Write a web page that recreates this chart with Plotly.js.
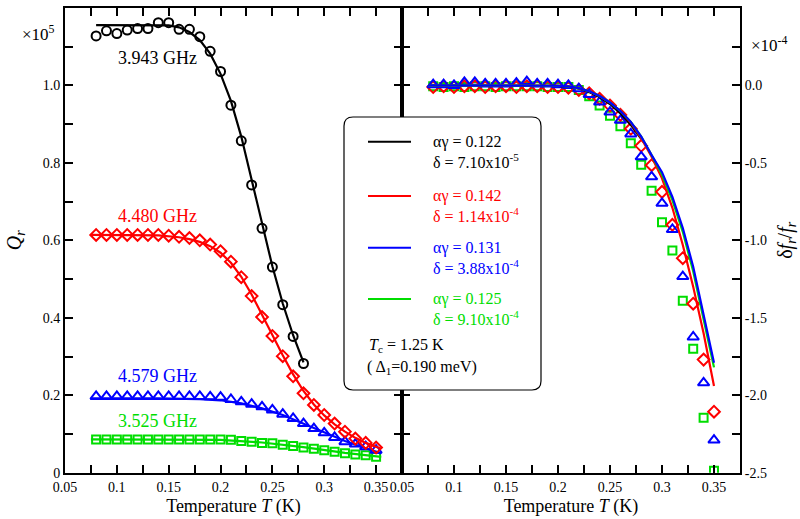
<!DOCTYPE html>
<html>
<head>
<meta charset="utf-8">
<script src="https://cdn.plot.ly/plotly-3.0.1.min.js"></script>
<style>html,body{margin:0;padding:0;background:#fff;}#chart{width:800px;height:519px;}</style>
</head>
<body>
<div id="chart"></div>
<script>
// ---------- data ----------
const T_pts = [0.08,0.09,0.10,0.11,0.12,0.13,0.14,0.15,0.16,0.17,0.18,0.19,0.20,0.21,0.22,0.23,0.24,0.25,0.26,0.27,0.28,0.29,0.30,0.31,0.32,0.33,0.34,0.35];
const T_black = [0.08,0.09,0.10,0.11,0.12,0.13,0.14,0.15,0.16,0.17,0.18,0.19,0.20,0.21,0.22,0.23,0.24,0.25,0.26,0.27,0.28];

// Left panel: Q_r (x1e5)
const Q_black = [1.128,1.141,1.134,1.143,1.147,1.147,1.162,1.162,1.145,1.145,1.126,1.088,1.036,0.949,0.857,0.743,0.631,0.531,0.434,0.352,0.282];
const Q_red = [0.614,0.614,0.614,0.614,0.614,0.614,0.614,0.612,0.609,0.606,0.600,0.589,0.572,0.545,0.505,0.456,0.402,0.353,0.301,0.249,0.205,0.175,0.149,0.127,0.106,0.088,0.077,0.065];
const Q_blue = [0.197,0.197,0.197,0.197,0.197,0.197,0.197,0.197,0.197,0.197,0.197,0.196,0.195,0.189,0.183,0.177,0.170,0.162,0.151,0.140,0.127,0.114,0.103,0.091,0.080,0.074,0.067,0.058];
const Q_green = [0.086,0.086,0.086,0.086,0.086,0.086,0.086,0.086,0.086,0.086,0.086,0.086,0.086,0.085,0.082,0.080,0.077,0.076,0.072,0.069,0.065,0.062,0.058,0.054,0.050,0.047,0.045,0.041];

// Left panel fits
const Tfit_black = [0.08,0.10,0.12,0.14,0.15,0.16,0.17,0.18,0.19,0.20,0.21,0.22,0.23,0.24,0.25,0.26,0.27,0.28];
const Qfit_black = [1.156,1.156,1.156,1.156,1.155,1.150,1.138,1.117,1.082,1.030,0.960,0.868,0.758,0.642,0.533,0.437,0.355,0.285];
const Tfit_red = [0.075,0.10,0.12,0.14,0.16,0.17,0.18,0.19,0.20,0.21,0.22,0.23,0.24,0.25,0.26,0.27,0.28,0.29,0.30,0.31,0.32,0.33,0.34,0.355];
const Qfit_red = [0.614,0.614,0.614,0.613,0.608,0.603,0.596,0.585,0.568,0.542,0.506,0.460,0.408,0.355,0.303,0.254,0.211,0.176,0.148,0.125,0.106,0.090,0.077,0.062];
const Tfit_blue = [0.075,0.10,0.14,0.18,0.20,0.22,0.24,0.26,0.28,0.30,0.32,0.34,0.355];
const Qfit_blue = [0.192,0.192,0.192,0.190,0.187,0.179,0.166,0.149,0.127,0.104,0.082,0.063,0.050];
const Tfit_green = [0.075,0.14,0.20,0.24,0.28,0.32,0.355];
const Qfit_green = [0.086,0.086,0.085,0.078,0.066,0.051,0.041];

// Right panel: delta f_r / f_r (x1e-4)
const F_blue = [0.005,0.005,0,0.02,0.02,0.01,0.01,0.01,0.015,0.025,0.01,0.01,0.005,0,-0.021,-0.058,-0.107,-0.172,-0.225,-0.313,-0.461,-0.59,-0.761,-0.93,-1.234,-1.624,-1.92,-2.289];
const F_red = [-0.01,-0.005,-0.01,-0.005,-0.005,-0.01,-0.005,-0.005,-0.01,-0.005,-0.005,-0.01,-0.01,-0.015,-0.03,-0.05,-0.086,-0.13,-0.19,-0.28,-0.39,-0.515,-0.687,-0.90,-1.115,-1.409,-1.77,-2.106];
const F_green = [-0.005,-0.01,-0.005,-0.01,-0.005,-0.005,-0.01,-0.005,-0.005,-0.005,-0.005,-0.01,-0.01,-0.01,-0.03,-0.07,-0.13,-0.195,-0.264,-0.373,-0.512,-0.68,-0.883,-1.065,-1.39,-1.70,-2.145,-2.488];

const Tfit_r = [0.075,0.10,0.15,0.20,0.21,0.22,0.23,0.24,0.25,0.26,0.27,0.28,0.29,0.30,0.31,0.32,0.33,0.34,0.35];
const Ffit_blue = [0,0,0,-0.002,-0.006,-0.017,-0.037,-0.068,-0.11,-0.165,-0.235,-0.33,-0.45,-0.56,-0.72,-0.92,-1.17,-1.47,-1.79];
const Ffit_red = [0,0,0,-0.002,-0.006,-0.017,-0.037,-0.068,-0.11,-0.165,-0.24,-0.34,-0.46,-0.60,-0.79,-1.03,-1.30,-1.60,-1.94];
const Ffit_green = [0,0,0,-0.002,-0.006,-0.017,-0.037,-0.068,-0.11,-0.165,-0.235,-0.33,-0.45,-0.575,-0.74,-0.945,-1.20,-1.50,-1.82];
const Tfit_r_black = [0.08,0.10,0.15,0.20,0.21,0.22,0.23,0.24,0.25,0.26,0.27,0.28];
const Ffit_black = [0,0,0,-0.003,-0.008,-0.02,-0.042,-0.075,-0.12,-0.18,-0.255,-0.345];

// ticks & labels
const xTickVals = [0.05,0.1,0.15,0.2,0.25,0.3,0.35];
const xTickText = ['0.05','0.1','0.15','0.2','0.25','0.3','0.35'];
const yLTickVals = [0,0.2,0.4,0.6,0.8,1.0];
const yLTickText = ['0','0.2','0.4','0.6','0.8','1.0'];
const yRTickVals = [-2.5,-2.0,-1.5,-1.0,-0.5,0];
const yRTickText = ['-2.5','-2.0','-1.5','-1.0','-0.5','0.0'];
const freqLabels = ['3.943 GHz','4.480 GHz','4.579 GHz','3.525 GHz'];
const legendTop = ['αγ = 0.122','αγ = 0.142','αγ = 0.131','αγ = 0.125'];
const legendBottom = ['δ = 7.10x10<sup>-5</sup>','δ = 1.14x10<sup>-4</sup>','δ = 3.88x10<sup>-4</sup>','δ = 9.10x10<sup>-4</sup>'];

// ---------- styling ----------
const C = {black:'#000000', red:'#ff0000', blue:'#0000ff', green:'#00dd00'};
const FONT = 'Liberation Serif, Times New Roman, serif';
const W = 800, H = 519;
const px = v => v / W;
const py = v => (H - v) / H;

function line(x, y, color, xa, ya) {
  return {x, y, xaxis: xa, yaxis: ya, type: 'scatter', mode: 'lines',
          line: {color, width: 2.2}, hoverinfo: 'skip'};
}
function pts(x, y, color, symbol, size, xa, ya) {
  return {x, y, xaxis: xa, yaxis: ya, type: 'scatter', mode: 'markers',
          marker: {symbol, size, color, line: {color, width: 2}}, hoverinfo: 'skip'};
}

const traces = [
  pts(T_pts, Q_green, C.green, 'square-open', 8, 'x', 'y'),
  line(Tfit_green, Qfit_green, C.green, 'x', 'y'),
  pts(T_pts, Q_blue, C.blue, 'triangle-up-open', 10, 'x', 'y'),
  line(Tfit_blue, Qfit_blue, C.blue, 'x', 'y'),
  pts(T_pts, Q_red, C.red, 'diamond-open', 9, 'x', 'y'),
  line(Tfit_red, Qfit_red, C.red, 'x', 'y'),
  pts(T_black, Q_black, C.black, 'circle-open', 9, 'x', 'y'),
  line(Tfit_black, Qfit_black, C.black, 'x', 'y'),
  pts(T_pts, F_green, C.green, 'square-open', 8, 'x2', 'y2'),
  pts(T_pts, F_red, C.red, 'diamond-open', 9, 'x2', 'y2'),
  pts(T_pts, F_blue, C.blue, 'triangle-up-open', 10, 'x2', 'y2'),
  line(Tfit_r_black, Ffit_black, C.black, 'x2', 'y2'),
  line(Tfit_r, Ffit_red, C.red, 'x2', 'y2'),
  line(Tfit_r, Ffit_green, C.green, 'x2', 'y2'),
  line(Tfit_r, Ffit_blue, C.blue, 'x2', 'y2')
];

const yDom = [py(472.7), py(8)];
function axisBase() {
  return {
    showline: true, linewidth: 2, linecolor: '#000', mirror: 'ticks',
    ticks: 'inside', ticklen: 8, tickwidth: 2, tickcolor: '#000',
    showgrid: false, zeroline: false, automargin: false,
    tickfont: {family: FONT, size: 14, color: '#000'}
  };
}
function minor(dt, t0) {
  return {dtick: dt, tick0: t0, ticks: 'inside', ticklen: 8, tickwidth: 2, tickcolor: '#000'};
}

const layout = {
  width: W, height: H,
  margin: {l: 0, r: 0, t: 0, b: 0},
  paper_bgcolor: '#fff', plot_bgcolor: 'rgba(0,0,0,0)',
  showlegend: false,
  font: {family: FONT, color: '#000', size: 14},
  xaxis: Object.assign(axisBase(), {
    domain: [px(65), px(402)], range: [0.05, 0.375], anchor: 'y',
    tickmode: 'array', tickvals: xTickVals, ticktext: xTickText, minor: minor(0.025, 0.05),
    title: {text: 'Temperature <i>T</i> (K)', font: {family: FONT, size: 18}, standoff: 6}
  }),
  yaxis: Object.assign(axisBase(), {
    domain: yDom, range: [0, 1.2], anchor: 'x',
    tickmode: 'array', tickvals: yLTickVals, ticktext: yLTickText, minor: minor(0.1, 0),
    title: {text: '<i>Q<sub>r</sub></i>', font: {family: FONT, size: 20}, standoff: 16}
  }),
  xaxis2: Object.assign(axisBase(), {
    domain: [px(402), px(740)], range: [0.05, 0.375], anchor: 'y2',
    tickmode: 'array', tickvals: xTickVals, ticktext: xTickText, minor: minor(0.025, 0.05),
    title: {text: 'Temperature <i>T</i> (K)', font: {family: FONT, size: 18}, standoff: 6}
  }),
  yaxis2: Object.assign(axisBase(), {
    domain: yDom, range: [-2.5, 0.5], anchor: 'x2', side: 'right',
    tickmode: 'array', tickvals: yRTickVals, ticktext: yRTickText, minor: minor(0.25, 0),
    title: {text: 'δ<i>f<sub>r</sub></i>/<i>f<sub>r</sub></i>', font: {family: FONT, size: 20}, standoff: 12}
  }),
  annotations: [],
  shapes: []
};

const freqColors = [C.black, C.red, C.blue, C.green];
const freqPos = [[0.1394, 1.071], [0.1394, 0.664], [0.1394, 0.250], [0.1394, 0.133]];
freqLabels.forEach((t, i) => layout.annotations.push({
  text: t, x: freqPos[i][0], y: freqPos[i][1], xref: 'x', yref: 'y', showarrow: false,
  font: {family: FONT, size: 18, color: freqColors[i]}, xanchor: 'center', yanchor: 'middle'
}));

layout.annotations.push({text: '×10<sup>5</sup>', x: px(38), y: py(33), xref: 'paper', yref: 'paper',
  showarrow: false, font: {family: FONT, size: 17, color: '#000'}, xanchor: 'center', yanchor: 'middle'});
layout.annotations.push({text: '×10<sup>-4</sup>', x: px(769), y: py(44), xref: 'paper', yref: 'paper',
  showarrow: false, font: {family: FONT, size: 17, color: '#000'}, xanchor: 'center', yanchor: 'middle'});

const bx0 = 344, bx1 = 541, by0 = 117, by1 = 390, r = 9;
const P = (x, y) => px(x) + ',' + py(y);
layout.shapes.push({
  type: 'path', xref: 'paper', yref: 'paper',
  path: 'M' + P(bx0 + r, by0) + ' L' + P(bx1 - r, by0) + ' Q' + P(bx1, by0) + ' ' + P(bx1, by0 + r) +
        ' L' + P(bx1, by1 - r) + ' Q' + P(bx1, by1) + ' ' + P(bx1 - r, by1) +
        ' L' + P(bx0 + r, by1) + ' Q' + P(bx0, by1) + ' ' + P(bx0, by1 - r) +
        ' L' + P(bx0, by0 + r) + ' Q' + P(bx0, by0) + ' ' + P(bx0 + r, by0) + ' Z',
  line: {color: '#000', width: 1.2}, fillcolor: '#fff', layer: 'above'
});
const rowY = [141.7, 196, 247.7, 299];
rowY.forEach((yy, i) => {
  layout.shapes.push({type: 'line', xref: 'paper', yref: 'paper', x0: px(368), x1: px(411), y0: py(yy), y1: py(yy),
    line: {color: freqColors[i], width: 2}, layer: 'above'});
  layout.annotations.push({text: legendTop[i], x: px(431), y: py(yy), xref: 'paper', yref: 'paper', showarrow: false,
    font: {family: FONT, size: 16, color: freqColors[i]}, xanchor: 'left', yanchor: 'middle'});
  layout.annotations.push({text: legendBottom[i], x: px(431), y: py(yy + 19), xref: 'paper', yref: 'paper', showarrow: false,
    font: {family: FONT, size: 16, color: freqColors[i]}, xanchor: 'left', yanchor: 'middle'});
});
layout.annotations.push({text: '<i>T</i><sub>c</sub> = 1.25 K', x: px(367), y: py(345), xref: 'paper', yref: 'paper',
  showarrow: false, font: {family: FONT, size: 16, color: '#000'}, xanchor: 'left', yanchor: 'middle'});
layout.annotations.push({text: '( Δ<sub>1</sub>=0.190 meV)', x: px(365), y: py(367), xref: 'paper', yref: 'paper',
  showarrow: false, font: {family: FONT, size: 16, color: '#000'}, xanchor: 'left', yanchor: 'middle'});

Plotly.newPlot('chart', traces, layout, {displayModeBar: false});
</script>
</body>
</html>
